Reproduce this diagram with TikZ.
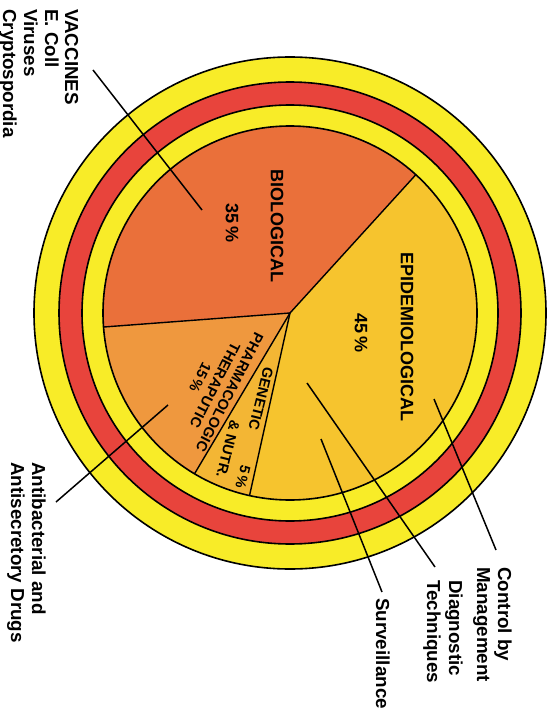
\documentclass[tikz,border=0pt]{standalone}
\usepackage{fontspec}
\setmainfont{Liberation Sans}
\begin{document}
\begin{tikzpicture}[x=1pt,y=1pt,
  ringline/.style={draw=black, line width=1.6pt},
  leader/.style={draw=black, line width=1.5pt},
  sidelbl/.style={font=\bfseries\fontsize{18.8}{20}\selectfont, inner sep=0pt, rotate=-90, anchor=base west},
  pielbl/.style={font=\bfseries\fontsize{18}{20}\selectfont, inner sep=0pt, rotate=-90, anchor=center},
  smalllbl/.style={font=\bfseries\fontsize{14.5}{16.5}\selectfont, inner sep=0pt, anchor=center, align=center}]
\definecolor{ringyellow}{RGB}{248,236,40}
\definecolor{ringred}{RGB}{232,68,60}
\definecolor{epicol}{RGB}{246,196,46}
\definecolor{biocol}{RGB}{234,112,58}
\definecolor{pharcol}{RGB}{239,152,62}
\definecolor{gencol}{RGB}{243,182,52}
\useasboundingbox (0,0) rectangle (557,-714);
\fill[white] (0,0) rectangle (557,-714);
\coordinate (c) at (290,-313);
% rings
\fill[ringyellow, ringline] (c) circle (256);
\fill[ringred, ringline] (c) circle (231);
\fill[ringyellow, ringline] (c) circle (208);
% slices
\fill[epicol] (c) -- ++(257.5:187) arc[start angle=257.5, end angle=407.7, radius=187] -- cycle;
\fill[biocol] (c) -- ++(47.7:187) arc[start angle=47.7, end angle=184.3, radius=187] -- cycle;
\fill[pharcol] (c) -- ++(184.3:187) arc[start angle=184.3, end angle=239.3, radius=187] -- cycle;
\fill[gencol] (c) -- ++(239.3:187) arc[start angle=239.3, end angle=257.5, radius=187] -- cycle;
\draw[ringline] (c) circle (187);
\draw[line width=1.4pt] (c) -- ++(47.7:187);
\draw[line width=1.4pt] (c) -- ++(184.3:187);
\draw[line width=1.4pt] (c) -- ++(239.3:187);
\draw[line width=1.4pt] (c) -- ++(257.5:187);
% pie labels
\node[pielbl] (bio) at (277,-226) {BIOLOGICAL};
\node[pielbl] (biop) at (232,-223) {35\,\%};
\node[pielbl] (epi) at (407,-337) {EPIDEMIOLOGICAL};
\node[pielbl] (epip) at (361,-333) {45\,\%};
\node[smalllbl, rotate=-117] (phar) at (215,-385) {PHARMACOLOGIC\\THERAPUTIC\\15\,\%};
\node[smalllbl, rotate=-104] (gen) at (261,-399) {GENETIC};
\node[smalllbl, rotate=-104] (nutr) at (228,-449) {\&\ NUTR.};
\node[smalllbl, rotate=-104] (genp) at (243,-477) {5\,\%};
% side labels
\node[sidelbl] (vac) at (65,-9) {VACCINES};
\node[sidelbl] (ecoli) at (45,-9) {E. Coll};
\node[sidelbl] (vir) at (24,-9) {Viruses};
\node[sidelbl] (crypt) at (3,-9) {Cryptospordia};
\node[sidelbl] (anti1) at (32,-462) {Antibacterial and};
\node[sidelbl] (anti2) at (11,-462) {Antisecretory Drugs};
\node[sidelbl] (ctrl1) at (498,-567) {Control by};
\node[sidelbl] (ctrl2) at (477,-567) {Management};
\node[sidelbl] (diag1) at (449,-580) {Diagnostic};
\node[sidelbl] (diag2) at (427,-580) {Techniques};
\node[sidelbl] (surv) at (376,-598) {Surveillance};
% leader lines
\coordinate (vacA) at (93,-70);
\coordinate (vacB) at (202,-210);
\coordinate (antiA) at (56,-502);
\coordinate (antiB) at (168,-405);
\coordinate (ctrlA) at (496,-550);
\coordinate (ctrlB) at (434,-399);
\coordinate (diagA) at (435,-567);
\coordinate (diagB) at (307,-383);
\coordinate (survA) at (382,-592);
\coordinate (survB) at (321,-439);
\draw[leader] (vacA) -- (vacB);
\draw[leader] (antiA) -- (antiB);
\draw[leader] (ctrlA) -- (ctrlB);
\draw[leader] (diagA) -- (diagB);
\draw[leader] (survA) -- (survB);
\end{tikzpicture}
\end{document}
